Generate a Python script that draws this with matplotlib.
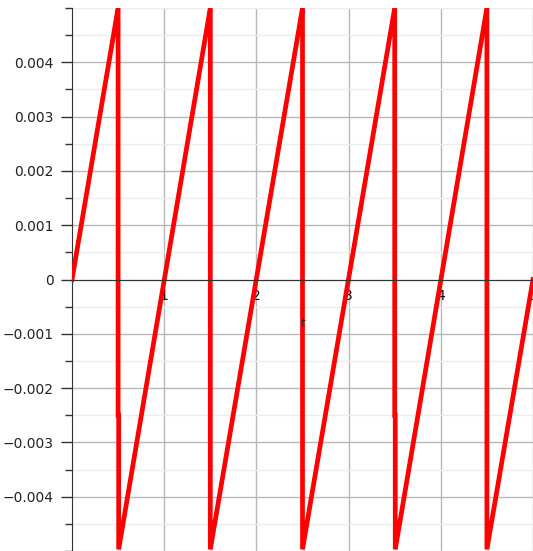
import matplotlib
matplotlib.use("Agg")
import matplotlib.pyplot as plt
from matplotlib.ticker import MultipleLocator, FixedLocator

# sawtooth corners (t, value)
t_vals = [0.00, 0.497, 0.50, 0.50, 0.506, 0.506, 1.497, 1.50, 1.50, 2.497, 2.50, 2.50,
          3.497, 3.50, 3.50, 3.506, 3.506, 4.497, 4.50, 4.50, 5.00]
y_vals = [0.0, 0.00497, 0.00497, -0.0025, -0.0025, -0.00497, 0.00497, 0.00497, -0.00497,
          0.00497, 0.00497, -0.00497, 0.00497, 0.00497, -0.0025, -0.0025, -0.00497,
          0.00497, 0.00497, -0.00497, 0.0]
x_ticks = [1, 2, 3, 4, 5]
y_ticks = [-0.004, -0.003, -0.002, -0.001, 0, 0.001, 0.002, 0.003, 0.004]
y_labels = ["\u22120.004", "\u22120.003", "\u22120.002", "\u22120.001", "0",
            "0.001", "0.002", "0.003", "0.004"]

fig = plt.figure(figsize=(5.33, 5.51), dpi=100)
ax = fig.add_axes([72/533, 0.0, 1 - 72/533, 543/551])

ax.plot(t_vals, y_vals, color="#ff0000", lw=3.4, solid_joinstyle="miter", zorder=3)

ax.set_xlim(0, 5)
ax.set_ylim(-0.005, 0.005)

ax.spines["top"].set_visible(False)
ax.spines["right"].set_visible(False)
ax.spines["bottom"].set_position(("data", 0))
ax.spines["bottom"].set_color("#333333")
ax.spines["left"].set_color("#333333")
ax.spines["bottom"].set_zorder(4)

ax.xaxis.set_major_locator(FixedLocator(x_ticks))
ax.xaxis.set_minor_locator(MultipleLocator(0.5))
ax.set_xticklabels([str(v) for v in x_ticks])
ax.yaxis.set_major_locator(FixedLocator(y_ticks))
ax.yaxis.set_minor_locator(MultipleLocator(0.0005))
ax.set_yticklabels(y_labels)

ax.tick_params(axis="y", which="major", length=8, width=1, color="#333333",
               labelsize=10, pad=5, labelcolor="#222222")
ax.tick_params(axis="y", which="minor", length=5, width=1, color="#333333")
ax.tick_params(axis="x", which="major", length=4, width=1, color="#333333",
               direction="inout", labelsize=10, pad=5, labelcolor="#111111")
ax.tick_params(axis="x", which="minor", length=3, width=1, color="#333333",
               direction="inout")
for lab in ax.get_xticklabels():
    lab.set_zorder(5)

ax.grid(which="major", color="#b8b8b8", lw=1)
ax.grid(which="minor", color="#ececec", lw=1)
ax.set_axisbelow(True)

ax.text(0.499, 0.42, "t", transform=ax.transAxes, fontsize=8, style="italic",
        ha="center", va="center", color="#222222", zorder=5)

fig.savefig("out.png", dpi=100)
